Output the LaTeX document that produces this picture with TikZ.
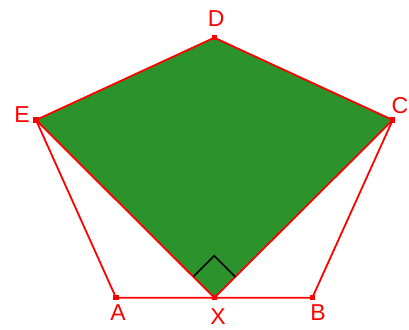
\documentclass[tikz,border=0pt]{standalone}
\usepackage{fontspec}
\setmainfont{Liberation Sans}
\usetikzlibrary{calc}
\definecolor{fillgreen}{RGB}{44,146,44}
\definecolor{ptred}{RGB}{255,0,0}
\tikzset{
  seg/.style={draw=ptred,line width=1.8pt},
  pt/.style={rectangle,fill=ptred,inner sep=0pt,minimum size=5.5pt},
  lbl/.style={text=ptred,font=\fontsize{23}{23}\selectfont,inner sep=0pt,anchor=center},
  rmark/.style={draw=black,line width=1.6pt}
}
\begin{document}
\begin{tikzpicture}[x=1pt,y=1pt]
\useasboundingbox (0,0) rectangle (409,329);
\coordinate (A) at (116,31.3);
\coordinate (B) at (312.3,31.3);
\coordinate (X) at (214.3,31.3);
\coordinate (C) at (392.7,209);
\coordinate (D) at (214.3,291.3);
\coordinate (E) at (36,209);
\fill[fillgreen] (X) -- (E) -- (D) -- (C) -- cycle;
\draw[seg,line join=round] (X) -- (E) -- (D) -- (C) -- cycle;
\draw[seg] (E) -- (A) -- (B) -- (C);
\coordinate (R1) at ($(X)+(-21,21)$);
\coordinate (R2) at ($(X)+(0,42)$);
\coordinate (R3) at ($(X)+(21,21)$);
\draw[rmark] (R1) -- (R2) -- (R3);
\foreach \p in {A,B,X,C,D,E} \node[pt] (m\p) at (\p) {};
\node[lbl] (lD) at (216.3,310.5) {D};
\node[lbl] (lE) at (22,214) {E};
\node[lbl] (lC) at (400,223) {C};
\node[lbl] (lA) at (118,16) {A};
\node[lbl] (lX) at (218,12.5) {X};
\node[lbl] (lB) at (318,16) {B};
\end{tikzpicture}
\end{document}
